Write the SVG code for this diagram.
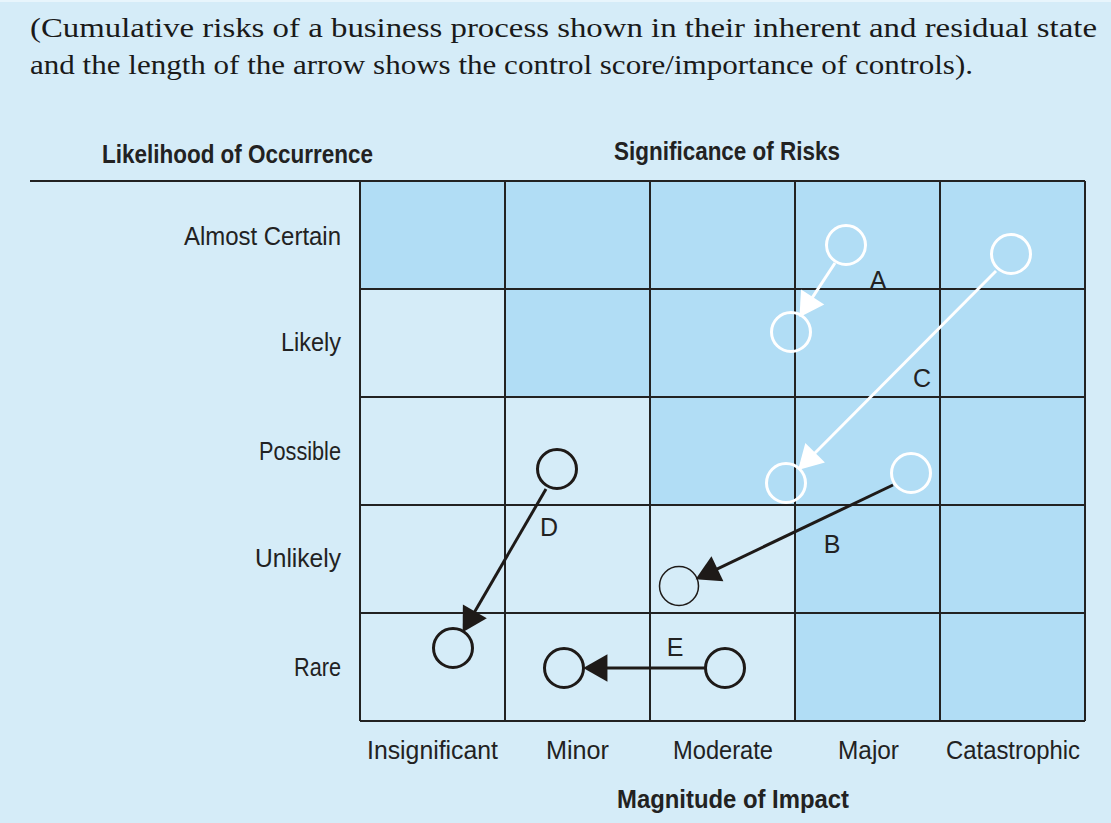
<svg xmlns="http://www.w3.org/2000/svg" width="1111" height="823" viewBox="0 0 1111 823">
  <style>
    .bg { fill: #d5ecf8; }
    .lo { fill: #d5ecf8; }
    .hi { fill: #b1ddf5; }
    .grid { stroke: #222; stroke-width: 2; fill: none; }
    .serif { font-family: "Liberation Serif", "DejaVu Serif", serif; font-size: 28px; fill: #1a1a1a; }
    .sans { font-family: "Liberation Sans", "DejaVu Sans", sans-serif; font-size: 26px; fill: #222; }
    .bold { font-weight: bold; }
    .tag { font-size: 25px; }
    .ring-w { fill: none; stroke: #fff; stroke-width: 3; }
    .ring-k { fill: none; stroke: #1e1a18; stroke-width: 3; }
    .ring-k-thin { fill: none; stroke: #1e1a18; stroke-width: 1.5; }
    .arrow-w { stroke: #fff; stroke-width: 3; fill: none; marker-end: url(#head-w); }
    .arrow-k { stroke: #1e1a18; stroke-width: 3; fill: none; marker-end: url(#head-k); }
  </style>
  <defs>
    <marker id="head-w" markerUnits="userSpaceOnUse" markerWidth="30" markerHeight="30" viewBox="-4 -13 24 26" refX="0" refY="0" orient="auto">
      <path d="M-3,-12 L18,0 L-3,12 Z" fill="#fff"/>
    </marker>
    <marker id="head-k" markerUnits="userSpaceOnUse" markerWidth="30" markerHeight="30" viewBox="-4 -13 24 26" refX="0" refY="0" orient="auto">
      <path d="M-3,-12 L18,0 L-3,12 Z" fill="#1e1a18"/>
    </marker>
  </defs>

  <!-- panel background -->
  <rect class="bg" x="0" y="0" width="1111" height="823"/>
  <rect x="0" y="0" width="1111" height="2" fill="#e8f5fc"/>

  <!-- caption -->
  <g id="caption">
    <text class="serif" x="30" y="37" textLength="1067" lengthAdjust="spacingAndGlyphs">(Cumulative risks of a business process shown in their inherent and residual state</text>
    <text class="serif" x="30" y="74" textLength="943" lengthAdjust="spacingAndGlyphs">and the length of the arrow shows the control score/importance of controls).</text>
  </g>

  <!-- axis titles -->
  <g id="axis-titles">
    <text class="sans bold" x="102" y="163" font-size="23" textLength="271" lengthAdjust="spacingAndGlyphs">Likelihood of Occurrence</text>
    <text class="sans bold" x="614" y="160" font-size="23" textLength="226" lengthAdjust="spacingAndGlyphs">Significance of Risks</text>
    <text class="sans bold" x="617" y="808" font-size="23" textLength="232" lengthAdjust="spacingAndGlyphs">Magnitude of Impact</text>
  </g>

  <!-- heat map cells: columns 145 wide, rows 108 tall -->
  <g id="matrix">
    <rect class="hi" x="360" y="181" width="725" height="108"/>
    <rect class="lo" x="360" y="289" width="145" height="108"/>
    <rect class="hi" x="505" y="289" width="580" height="108"/>
    <rect class="lo" x="360" y="397" width="290" height="108"/>
    <rect class="hi" x="650" y="397" width="435" height="108"/>
    <rect class="lo" x="360" y="505" width="435" height="216"/>
    <rect class="hi" x="795" y="505" width="290" height="216"/>
    <path class="grid" d="M30,181 H1085 M360,289 H1085 M360,397 H1085 M360,505 H1085 M360,613 H1085 M360,721 H1085
                          M360,181 V721 M505,181 V721 M650,181 V721 M795,181 V721 M940,181 V721 M1085,181 V721"/>
  </g>

  <!-- likelihood labels -->
  <g id="row-labels" text-anchor="end">
    <text class="sans" x="341" y="245" textLength="157" lengthAdjust="spacingAndGlyphs">Almost Certain</text>
    <text class="sans" x="341" y="351" textLength="60" lengthAdjust="spacingAndGlyphs">Likely</text>
    <text class="sans" x="341" y="460" textLength="82" lengthAdjust="spacingAndGlyphs">Possible</text>
    <text class="sans" x="341" y="567" textLength="86" lengthAdjust="spacingAndGlyphs">Unlikely</text>
    <text class="sans" x="341" y="676" textLength="47" lengthAdjust="spacingAndGlyphs">Rare</text>
  </g>

  <!-- impact labels -->
  <g id="col-labels">
    <text class="sans" x="367" y="759" textLength="131" lengthAdjust="spacingAndGlyphs">Insignificant</text>
    <text class="sans" x="546" y="759" textLength="63" lengthAdjust="spacingAndGlyphs">Minor</text>
    <text class="sans" x="673" y="759" textLength="100" lengthAdjust="spacingAndGlyphs">Moderate</text>
    <text class="sans" x="838" y="759" textLength="61" lengthAdjust="spacingAndGlyphs">Major</text>
    <text class="sans" x="946" y="759" textLength="134" lengthAdjust="spacingAndGlyphs">Catastrophic</text>
  </g>

  <!-- risk A -->
  <g id="risk-a">
    <circle class="ring-w" cx="846" cy="245" r="19.5"/>
    <circle class="ring-w" cx="791" cy="332" r="19.5"/>
    <text class="sans tag" x="878" y="289" text-anchor="middle">A</text>
  </g>
  <!-- risk C -->
  <g id="risk-c">
    <circle class="ring-w" cx="1011" cy="254" r="19.5"/>
    <circle class="ring-w" cx="786" cy="483" r="19.5"/>
    <text class="sans tag" x="922" y="387" text-anchor="middle">C</text>
  </g>
  <!-- risk B -->
  <g id="risk-b">
    <circle class="ring-w" cx="911" cy="473" r="19.5"/>
    <circle class="ring-k-thin" cx="679" cy="586" r="19.5"/>
    <text class="sans tag" x="832" y="553" text-anchor="middle">B</text>
  </g>
  <!-- risk D -->
  <g id="risk-d">
    <circle class="ring-k" cx="557" cy="469" r="19.5"/>
    <circle class="ring-k" cx="453" cy="648" r="19.5"/>
    <text class="sans tag" x="549" y="536" text-anchor="middle">D</text>
  </g>
  <!-- risk E -->
  <g id="risk-e">
    <circle class="ring-k" cx="725" cy="668" r="19.5"/>
    <circle class="ring-k" cx="564" cy="668" r="19.5"/>
    <text class="sans tag" x="675" y="656" text-anchor="middle">E</text>
  </g>

  <!-- inherent to residual movements -->
  <g id="connectors">
    <line class="arrow-w" x1="835" y1="263" x2="810.8" y2="299.9"/>
    <line class="arrow-w" x1="996" y1="271" x2="812.7" y2="455.2"/>
    <line class="arrow-k" x1="893" y1="485" x2="714.3" y2="570.3"/>
    <line class="arrow-k" x1="546" y1="489" x2="473.1" y2="614.4"/>
    <line class="arrow-k" x1="705" y1="668" x2="604" y2="668"/>
  </g>
</svg>
